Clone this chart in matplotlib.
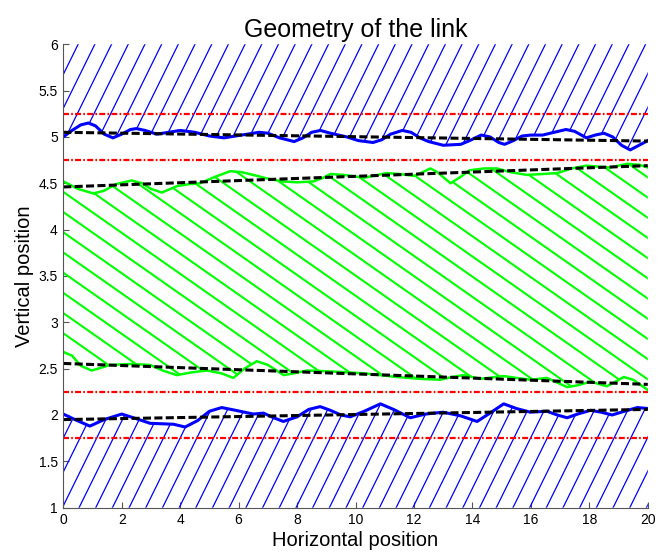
import numpy as np
import matplotlib
matplotlib.use("Agg")
import matplotlib.pyplot as plt
from matplotlib.collections import LineCollection
from matplotlib.patches import Polygon
from matplotlib.ticker import FormatStrFormatter

plt.rcParams['font.family'] = ['Liberation Sans', 'DejaVu Sans']
plt.rcParams['lines.scale_dashes'] = False

# wavy boundaries
x_top = [0, 0.3, 0.6, 0.86, 1.1, 1.4, 1.7, 2.0, 2.3, 2.5, 2.8, 3.2, 3.6, 4.0, 4.5,
         5.0, 5.5, 6.1, 6.7, 7.0, 7.4, 7.9, 8.2, 8.5, 8.8, 9.14, 9.7, 10.1, 10.6,
         10.9, 11.2, 11.6, 11.9, 12.2, 12.5, 13.0, 13.6, 13.9, 14.3, 14.6, 14.9,
         15.1, 15.4, 15.7, 16.0, 16.4, 16.8, 17.2, 17.5, 17.9, 18.2, 18.5, 18.8,
         19.1, 19.4, 19.7, 20.0]
y_top = [5.00, 5.07, 5.13, 5.15, 5.12, 5.03, 4.99, 5.03, 5.08, 5.09, 5.07, 5.03,
         5.05, 5.07, 5.05, 5.01, 4.99, 5.02, 5.05, 5.04, 4.99, 4.95, 4.99, 5.05,
         5.07, 5.04, 5.00, 4.96, 4.94, 4.97, 5.03, 5.07, 5.05, 4.99, 4.95, 4.91,
         4.92, 4.96, 5.02, 5.00, 4.94, 4.92, 4.96, 5.01, 5.02, 5.02, 5.05, 5.08,
         5.06, 4.99, 5.02, 5.04, 5.00, 4.91, 4.86, 4.91, 4.96]

x_gup = [0, 0.5, 1.03, 1.4, 1.8, 2.34, 2.7, 3.0, 3.37, 3.6, 3.9, 4.3, 4.68, 5.2,
         5.71, 6.1, 6.5, 7.0, 7.5, 8.0, 8.56, 8.9, 9.14, 9.6, 10.3, 11.07, 11.5,
         12.0, 12.3, 12.56, 12.8, 13.25, 13.6, 13.9, 14.4, 14.84, 15.3, 15.87,
         16.4, 16.9, 17.4, 17.9, 18.3, 18.7, 19.3, 19.7, 20.0]
y_gup = [4.52, 4.44, 4.39, 4.42, 4.49, 4.53, 4.50, 4.44, 4.40, 4.43, 4.47, 4.49,
         4.50, 4.57, 4.63, 4.62, 4.59, 4.55, 4.52, 4.51, 4.52, 4.56, 4.60, 4.59,
         4.56, 4.61, 4.60, 4.58, 4.62, 4.66, 4.62, 4.50, 4.57, 4.64, 4.66, 4.66,
         4.62, 4.59, 4.60, 4.61, 4.66, 4.69, 4.68, 4.67, 4.71, 4.70, 4.67]

x_glo = [0, 0.3, 0.6, 0.97, 1.3, 1.6, 2.3, 2.97, 3.4, 3.88, 4.4, 4.91, 5.4, 5.82,
         6.2, 6.62, 7.0, 7.54, 7.9, 8.34, 9.14, 10.27, 11.4, 12.2, 12.9, 13.3,
         13.7, 14.27, 15.07, 15.5, 16.0, 16.55, 16.9, 17.24, 17.6, 18.04, 18.6,
         18.9, 19.18, 19.5, 20.0]
y_glo = [2.68, 2.64, 2.53, 2.48, 2.51, 2.54, 2.55, 2.54, 2.48, 2.43, 2.46, 2.48,
         2.45, 2.40, 2.50, 2.58, 2.54, 2.43, 2.45, 2.48, 2.47, 2.45, 2.41, 2.39,
         2.38, 2.41, 2.43, 2.39, 2.42, 2.40, 2.38, 2.40, 2.35, 2.30, 2.32, 2.36,
         2.31, 2.36, 2.41, 2.38, 2.27]

x_bot = [0, 0.4, 0.91, 1.4, 2.0, 2.5, 2.97, 3.77, 4.17, 4.6, 5.0, 5.42, 5.9, 6.5,
         6.85, 7.2, 7.53, 8.0, 8.4, 8.79, 9.14, 9.5, 9.82, 10.3, 10.85, 11.3,
         11.87, 12.4, 13.0, 13.6, 14.16, 14.6, 15.07, 15.5, 15.98, 16.55, 16.9,
         17.24, 17.6, 18.04, 18.4, 18.78, 19.2, 19.64, 20.0]
y_bot = [2.01, 1.95, 1.88, 1.95, 2.01, 1.96, 1.91, 1.90, 1.87, 1.94, 2.04, 2.08,
         2.05, 2.01, 2.02, 1.97, 1.93, 1.98, 2.06, 2.09, 2.05, 2.00, 1.98, 2.04,
         2.12, 2.06, 1.97, 2.01, 2.03, 1.99, 1.93, 2.02, 2.12, 2.07, 2.03, 2.04,
         2.00, 1.97, 2.01, 2.05, 2.03, 2.00, 2.04, 2.08, 2.07]

# straight reference lines (dashed black)
x_fit = [0, 20]
fit_top = [5.05, 4.955]
fit_gup = [4.46, 4.69]
fit_glo = [2.556, 2.33]
fit_bot = [1.95, 2.06]

# limits (dash-dot red)
limits = [5.25, 4.75, 2.25, 1.75]

fig = plt.figure(figsize=(6.59, 5.53), dpi=100)
ax = fig.add_axes([0.096, 0.082, 0.887, 0.838])
ax.set_xlim(0, 20)
ax.set_ylim(1, 6)


def hatch(region, x0s, slope, ybase, color, lw):
    patch = Polygon(region, closed=True, facecolor='none', edgecolor='none')
    ax.add_patch(patch)
    segs = []
    for x0 in x0s:
        xa, xb = -2.0, 22.0
        segs.append([(xa, ybase + slope * (xa - x0)), (xb, ybase + slope * (xb - x0))])
    lc = LineCollection(segs, colors=color, linewidths=lw)
    ax.add_collection(lc)
    lc.set_clip_path(patch)


# blue region above the top boundary
reg = list(zip(x_top, y_top)) + [(20, 6), (0, 6)]
hatch(reg, 0.51 + 0.571 * np.arange(-20, 45), 0.64, 6.0, 'blue', 0.9)
# blue region below the bottom boundary
reg = list(zip(x_bot, y_bot)) + [(20, 1), (0, 1)]
hatch(reg, -0.03 + 0.571 * np.arange(-20, 45), 0.64, 1.0, 'blue', 0.9)
# green region between green boundaries
reg = list(zip(x_glo, y_glo)) + list(zip(x_gup[::-1], y_gup[::-1]))
hatch(reg, 0.986 * np.arange(-30, 30), -0.221, 4.407, '#00ff00', 1.5)

for y in limits:
    ax.plot([0, 20], [y, y], color='red', lw=1.6, dashes=(4.3, 1.6, 1.2, 1.6))

ax.plot(x_top, y_top, color='blue', lw=2.2, solid_joinstyle='round')
ax.plot(x_bot, y_bot, color='blue', lw=2.2, solid_joinstyle='round')
ax.plot(x_gup, y_gup, color='#00ff00', lw=1.8, solid_joinstyle='round')
ax.plot(x_glo, y_glo, color='#00ff00', lw=1.8, solid_joinstyle='round')

for fy in (fit_top, fit_gup, fit_glo, fit_bot):
    ax.plot(x_fit, fy, color='black', lw=2.2, dashes=(5.8, 2.4))

ax.set_xticks(np.arange(0, 21, 2))
ax.set_yticks(np.arange(1, 6.01, 0.5))
ax.yaxis.set_major_formatter(FormatStrFormatter('%g'))
ax.tick_params(direction='in', length=4, width=0.8, color='#555555',
               labelsize=10, pad=4, top=False, right=False)
for side in ('top', 'right'):
    ax.spines[side].set_visible(False)
for side in ('left', 'bottom'):
    ax.spines[side].set_color('#555555')
    ax.spines[side].set_linewidth(0.8)

ax.set_title('Geometry of the link', fontsize=18, pad=5)
ax.set_xlabel('Horizontal position', fontsize=14.5, labelpad=3)
ax.set_ylabel('Vertical position', fontsize=14.5, labelpad=3)

fig.savefig('out.png', dpi=100)
